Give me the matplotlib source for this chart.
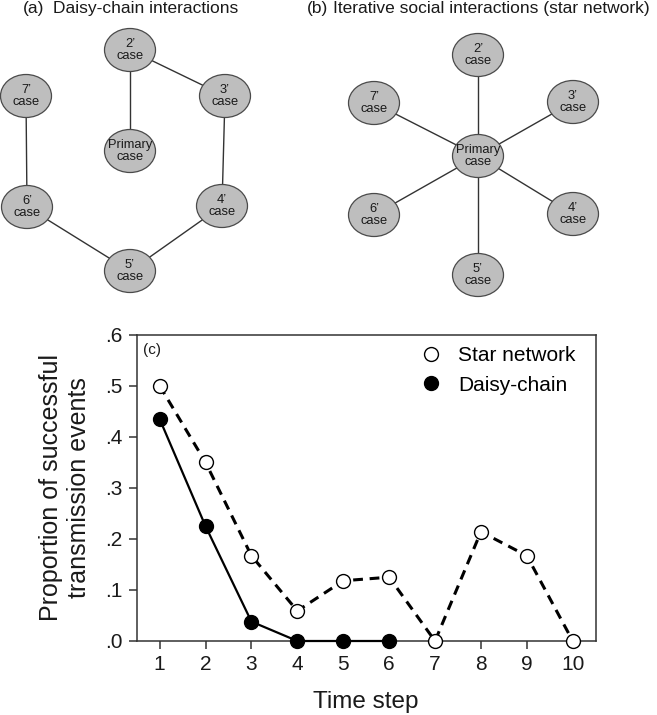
import matplotlib.pyplot as plt
from matplotlib.patches import Ellipse
from matplotlib.lines import Line2D
from matplotlib.ticker import FixedLocator, FixedFormatter

plt.rcParams['font.family'] = ['Liberation Sans', 'DejaVu Sans']

# === data ===
time_steps = [1, 2, 3, 4, 5, 6, 7, 8, 9, 10]
star_values = [0.500, 0.350, 0.167, 0.059, 0.118, 0.125, 0.000, 0.214, 0.167, 0.000]
daisy_steps = [1, 2, 3, 4, 5, 6]
daisy_values = [0.435, 0.225, 0.038, 0.000, 0.000, 0.000]
y_ticks = [0.0, 0.1, 0.2, 0.3, 0.4, 0.5, 0.6]
y_tick_labels = [".0", ".1", ".2", ".3", ".4", ".5", ".6"]

# network nodes and links
nodes = ["Primary", "2’", "3’", "4’", "5’", "6’", "7’"]
daisy_links = [("2’", "Primary"), ("2’", "3’"), ("3’", "4’"),
               ("4’", "5’"), ("5’", "6’"), ("6’", "7’")]
star_links = [("Primary", n) for n in nodes[1:]]

# node layout in figure pixels (x, y from top)
pos_a = {"2’": (130, 50), "3’": (225, 96), "Primary": (130, 151), "7’": (26, 96),
         "6’": (27, 207), "4’": (222, 206), "5’": (130, 271)}
pos_b = {"2’": (478, 55), "7’": (374, 103), "3’": (573, 102), "Primary": (478, 156),
         "6’": (374, 215), "4’": (573, 214), "5’": (478, 275)}

W, H = 657, 715
fig = plt.figure(figsize=(W / 100, H / 100), dpi=100)

# === top: network diagrams ===
net = fig.add_axes([0, 0, 1, 1])
net.set_xlim(0, W)
net.set_ylim(H, 0)
net.axis("off")


def draw_network(pos, links):
    for a, b in links:
        (x1, y1), (x2, y2) = pos[a], pos[b]
        net.plot([x1, x2], [y1, y2], color="#333333", lw=1.0, zorder=1)
    for n in nodes:
        x, y = pos[n]
        net.add_patch(Ellipse((x, y), 51, 43, facecolor="#bebebe",
                              edgecolor="#4a4a4a", lw=0.9, zorder=2))
        net.text(x, y, n + "\ncase", ha="center", va="center", fontsize=9.3,
                 color="#1a1a1a", linespacing=1.1, zorder=3)


draw_network(pos_a, daisy_links)
draw_network(pos_b, star_links)

net.text(23, 9, "(a)", fontsize=12.5, va="center", ha="left", color="#1a1a1a")
net.text(53, 9, "Daisy-chain interactions", fontsize=12.5, va="center", ha="left",
         color="#1a1a1a")
net.text(307, 9, "(b)", fontsize=12.5, va="center", ha="left", color="#1a1a1a")
net.text(333, 9, "Iterative social interactions (star network)", fontsize=12.5,
         va="center", ha="left", color="#1a1a1a")

# === bottom: line chart ===
ax = fig.add_axes([0.208, 0.1035, 0.6987, 0.4284])

ax.plot(time_steps, star_values, color="black", lw=2.2, ls=(0, (3.2, 2.2)),
        marker="o", ms=10, mfc="white", mec="black", mew=1.0,
        clip_on=False, zorder=3)
ax.plot(daisy_steps, daisy_values, color="black", lw=1.6, ls="-",
        marker="o", ms=10, mfc="black", mec="black", mew=1.0,
        clip_on=False, zorder=4)

ax.set_xlim(0.5, 10.5)
ax.set_ylim(0, 0.6)
ax.xaxis.set_major_locator(FixedLocator(time_steps))
ax.yaxis.set_major_locator(FixedLocator(y_ticks))
ax.yaxis.set_major_formatter(FixedFormatter(y_tick_labels))

for s in ax.spines.values():
    s.set_color("#333333")
    s.set_linewidth(1.1)
ax.tick_params(direction="out", length=6, width=1.1, color="#333333",
               labelsize=15, labelcolor="#1a1a1a", pad=4)

ax.set_xlabel("Time step", fontsize=17.5, color="#1a1a1a", labelpad=12)
ax.set_ylabel("Proportion of successful\ntransmission events", fontsize=18,
              color="#1a1a1a")
ax.yaxis.set_label_coords(-0.1, 0.5)

ax.text(0.014, 0.95, "(c)", transform=ax.transAxes, fontsize=11,
        va="center", ha="left", color="#1a1a1a")

handles = [
    Line2D([], [], ls="none", marker="o", ms=10, mfc="white", mec="black", mew=1.0),
    Line2D([], [], ls="none", marker="o", ms=10, mfc="black", mec="black", mew=1.0),
]
ax.legend(handles, ["Star network", "Daisy-chain"], loc="upper left",
          bbox_to_anchor=(0.618, 0.962), frameon=False, fontsize=15,
          handlelength=1.0, handletextpad=0.8, labelspacing=0.5, borderpad=0,
          borderaxespad=0)

fig.savefig("out.png", dpi=100)
